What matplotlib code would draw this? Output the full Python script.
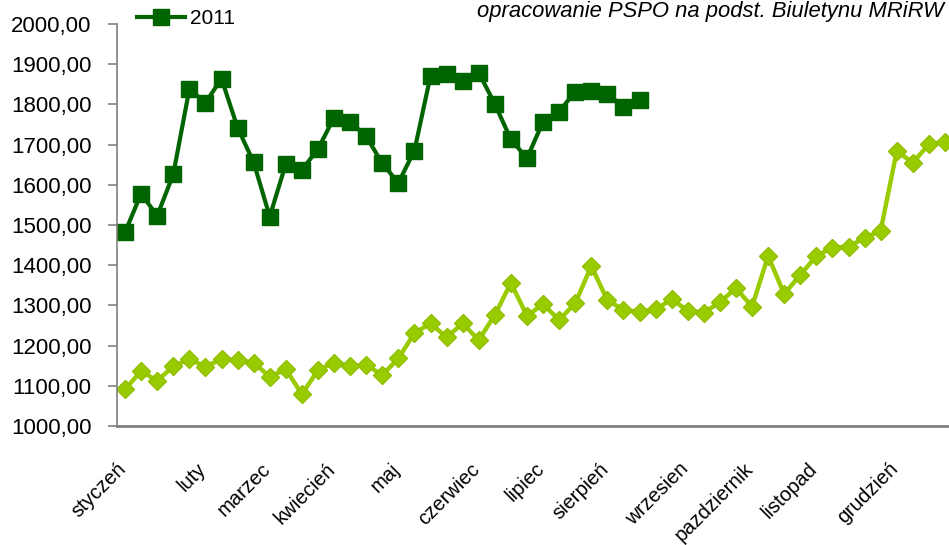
import numpy as np
import matplotlib.pyplot as plt
from matplotlib.ticker import FuncFormatter

plt.rcParams['font.family'] = ['Liberation Sans', 'DejaVu Sans']

# ceny tygodniowe (zł/t)
ceny_2011 = [1482, 1578, 1523, 1626, 1838, 1804, 1864, 1742, 1656, 1521,
             1652, 1637, 1689, 1767, 1756, 1721, 1653, 1605, 1685, 1871,
             1875, 1859, 1879, 1801, 1713, 1666, 1757, 1782, 1832, 1833,
             1826, 1794, 1811]
ceny_2010 = [1091, 1137, 1112, 1149, 1166, 1148, 1166, 1164, 1157, 1123,
             1141, 1079, 1139, 1157, 1149, 1152, 1127, 1168, 1231, 1255,
             1221, 1255, 1214, 1276, 1356, 1274, 1303, 1264, 1305, 1398,
             1313, 1289, 1284, 1290, 1315, 1287, 1282, 1308, 1343, 1297,
             1423, 1328, 1376, 1423, 1444, 1446, 1468, 1486, 1684, 1655,
             1701, 1707]

miesiace = ["styczeń", "luty", "marzec", "kwiecień", "maj", "czerwiec",
            "lipiec", "sierpień", "wrzesien", "pazdziernik", "listopad",
            "grudzień"]
tyg_miesiecy = [0, 5, 9, 13, 17, 22, 26, 30, 35, 39, 43, 48]

fig = plt.figure(figsize=(9.49, 5.45), dpi=100)
ax = fig.add_axes([117 / 949, 1 - 426 / 545, 1 - 117 / 949, (426 - 24) / 545])

ax.plot(np.arange(len(ceny_2010)), ceny_2010, color="#99cc00", lw=3.2,
        marker="D", ms=9.5, mec="#8fbf00", label="2010")
l2011, = ax.plot(np.arange(len(ceny_2011)), ceny_2011, color="#006400", lw=3,
                 marker="s", ms=12, label="2011")

ax.set_xlim(-0.5, 51.25)
ax.set_ylim(1000, 2000)
ax.set_yticks(np.arange(1000, 2001, 100))
ax.yaxis.set_major_formatter(FuncFormatter(lambda v, p: f"{v:.2f}".replace(".", ",")))
ax.tick_params(axis="y", direction="out", length=6.5, width=1.2, color="#808080",
               pad=12, labelsize=16)

ax.set_xticks(np.array(tyg_miesiecy) + 0.3)
ax.set_xticklabels(miesiace, rotation=45, ha="right", va="top", fontsize=14.5)
ax.tick_params(axis="x", length=0, pad=24)

for s in ["top", "right"]:
    ax.spines[s].set_visible(False)
ax.spines["left"].set_color("#808080")
ax.spines["left"].set_linewidth(1.2)
ax.spines["bottom"].set_color("#808080")
ax.spines["bottom"].set_linewidth(2)

fig.legend(handles=[l2011], loc="center left", bbox_to_anchor=(137 / 949, 1 - 19 / 545),
           frameon=False, borderpad=0, borderaxespad=0, handlelength=2.3,
           handletextpad=0.25, fontsize=15)

fig.text(944 / 949, 1 - 11 / 545, "opracowanie PSPO na podst. Biuletynu MRiRW",
         ha="right", va="center", fontsize=15.8, style="italic")

fig.savefig("out.png", dpi=100)
